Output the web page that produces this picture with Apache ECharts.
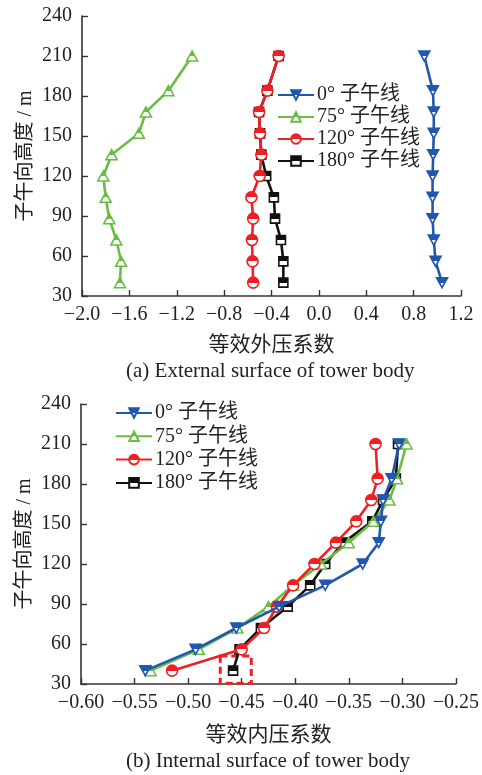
<!DOCTYPE html>
<html>
<head>
<meta charset="utf-8">
<script src="https://cdn.jsdelivr.net/npm/echarts@6/dist/echarts.min.js"></script>
<style>
  html, body { margin: 0; padding: 0; background: #fff; }
  #chart { width: 482px; height: 775px; }
</style>
</head>
<body>
<div id="chart"></div>
<script>
// Measurement heights along the meridian (m)
const heights = [40, 56, 72, 88, 104, 120, 136, 152, 168, 184, 210];

const seriesNames = ['0° 子午线', '75° 子午线', '120° 子午线', '180° 子午线'];

// Equivalent external pressure coefficients
const ext0   = [1.04, 0.985, 0.97, 0.96, 0.96, 0.96, 0.965, 0.97, 0.97, 0.963, 0.89];
const ext75  = [-1.68, -1.67, -1.71, -1.77, -1.80, -1.82, -1.75, -1.52, -1.46, -1.27, -1.07];
const ext120 = [-0.555, -0.56, -0.565, -0.555, -0.57, -0.50, -0.486, -0.497, -0.505, -0.435, -0.34];
const ext180 = [-0.30, -0.30, -0.32, -0.37, -0.38, -0.445, -0.486, -0.497, -0.505, -0.435, -0.34];

// Equivalent internal pressure coefficients
const int0   = [-0.540, -0.493, -0.455, -0.415, -0.372, -0.337, -0.322, -0.320, -0.318, -0.310, -0.303];
const int75  = [-0.535, -0.490, -0.454, -0.425, -0.402, -0.376, -0.350, -0.327, -0.312, -0.305, -0.296];
const int120 = [-0.515, -0.450, -0.429, -0.417, -0.402, -0.382, -0.362, -0.343, -0.329, -0.323, -0.325];
const int180 = [-0.458, -0.452, -0.432, -0.407, -0.386, -0.372, -0.355, -0.328, -0.318, -0.306, -0.304];

// Highlighted region on the internal plot: [xMin, yMin, xMax, yMax]
const highlightBox = [-0.470, 30.5, -0.441, 51];

const extTicks = { min: -2.0, max: 1.2, step: 0.4, digits: 1 };
const intTicks = { min: -0.60, max: -0.25, step: 0.05, digits: 2 };
const heightTicks = { min: 30, max: 240, step: 30 };

const colors = ['#2157ad', '#69bd45', '#ee2024', '#111111'];
const symbols = [
  'path://M0,0 L10,0 L5,9 Z',
  'path://M5,0 L10,9 L0,9 Z',
  'circle',
  'rect'
];
const symbolSizes = [[11, 10], [11, 10], 11, 9];

const serifFont = '"Liberation Serif", "Times New Roman", "Noto Sans CJK SC", serif';
const cjkFont = '"Noto Sans CJK SC", sans-serif';
const textColor = '#222';

function halfFill(c) {
  return {
    type: 'linear', x: 0, y: 0, x2: 0, y2: 1,
    colorStops: [
      { offset: 0, color: c }, { offset: 0.5, color: c },
      { offset: 0.5, color: '#ffffff' }, { offset: 1, color: '#ffffff' }
    ]
  };
}

function pairs(xs) {
  return xs.map((v, i) => [v, heights[i]]);
}

function makeSeries(values, idx, axisIdx, z) {
  return {
    name: seriesNames[idx],
    type: 'line',
    xAxisIndex: axisIdx,
    yAxisIndex: axisIdx,
    data: pairs(values),
    symbol: symbols[idx],
    symbolSize: symbolSizes[idx],
    z: z,
    lineStyle: { color: colors[idx], width: 2.6 },
    itemStyle: { color: halfFill(colors[idx]), borderColor: colors[idx], borderWidth: 1.6 },
    animation: false
  };
}

const minus = s => s.replace('-', '\u2212');

function xAxisDef(t, grid, name, gap) {
  return {
    type: 'value', gridIndex: grid,
    min: t.min, max: t.max, interval: t.step,
    name: name, nameLocation: 'middle', nameGap: gap, nameMoveOverlap: false,
    nameTextStyle: { fontFamily: cjkFont, fontSize: 21, color: textColor },
    axisLine: { show: true, onZero: false, lineStyle: { color: '#333', width: 1.6 } },
    axisTick: { show: true, inside: true, length: 6, lineStyle: { color: '#333', width: 1.4 } },
    axisLabel: {
      fontFamily: serifFont, fontSize: 20, color: textColor, margin: 9,
      formatter: v => minus(Number(v).toFixed(t.digits))
    },
    splitLine: { show: false }
  };
}

function yAxisDef(grid) {
  return {
    type: 'value', gridIndex: grid,
    min: heightTicks.min, max: heightTicks.max, interval: heightTicks.step,
    name: '子午向高度 / m', nameLocation: 'middle', nameGap: 46, nameMoveOverlap: false,
    nameTextStyle: { fontFamily: serifFont, fontSize: 20, color: textColor },
    axisLine: { show: true, onZero: false, lineStyle: { color: '#333', width: 1.6 } },
    axisTick: { show: true, inside: true, length: 6, lineStyle: { color: '#333', width: 1.4 } },
    axisLabel: { fontFamily: serifFont, fontSize: 20, color: textColor, margin: 10 },
    splitLine: { show: false }
  };
}

function legendDef(left, top, gap) {
  return {
    orient: 'vertical', left: left, top: top,
    data: seriesNames,
    itemWidth: 36, itemHeight: 12, itemGap: gap,
    textStyle: { fontFamily: serifFont, fontSize: 20, color: textColor, lineHeight: 20, padding: [0, 0, 0, -2] },
    padding: 0
  };
}

function captionDef(text, top) {
  return {
    text: text, left: 126, top: top,
    textStyle: { fontFamily: serifFont, fontSize: 21, fontWeight: 'normal', color: textColor },
    padding: 0, itemGap: 0
  };
}

const chart = echarts.init(document.getElementById('chart'), null, { renderer: 'canvas' });

const option = {
  backgroundColor: '#fff',
  animation: false,
  grid: [
    { left: 82, right: 21, top: 16, bottom: 479 },
    { left: 81, right: 22, top: 404, bottom: 91 }
  ],
  xAxis: [
    xAxisDef(extTicks, 0, '等效外压系数', 37),
    xAxisDef(intTicks, 1, '等效内压系数', 39)
  ],
  yAxis: [yAxisDef(0), yAxisDef(1)],
  legend: [
    legendDef(277, 85, 2),
    legendDef(115, 403, 3.3)
  ],
  title: [
    captionDef('(a) External surface of tower body', 361),
    captionDef('(b) Internal surface of tower body', 751)
  ],
  series: [
    makeSeries(ext180, 3, 0, 2),
    makeSeries(ext75, 1, 0, 3),
    makeSeries(ext120, 2, 0, 4),
    makeSeries(ext0, 0, 0, 5),
    Object.assign(makeSeries(int180, 3, 1, 2), {
      markArea: {
        silent: true,
        itemStyle: { color: 'rgba(0,0,0,0)', borderColor: '#ee2024', borderWidth: 3, borderType: [7, 4] },
        data: [[
          { coord: [highlightBox[0], highlightBox[3]] },
          { coord: [highlightBox[2], highlightBox[1]] }
        ]]
      }
    }),
    makeSeries(int75, 1, 1, 3),
    makeSeries(int120, 2, 1, 4),
    makeSeries(int0, 0, 1, 5)
  ]
};

chart.setOption(option);
</script>
</body>
</html>
